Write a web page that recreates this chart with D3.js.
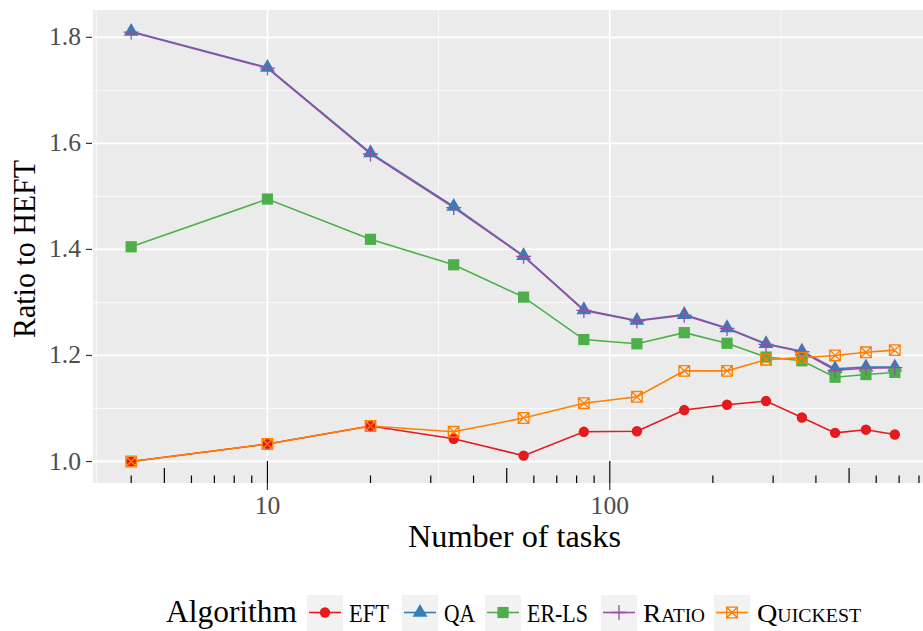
<!DOCTYPE html>
<html><head><meta charset="utf-8">
<script src="https://cdn.jsdelivr.net/npm/d3@7"></script>
<style>body{margin:0;background:#fff}svg{display:block}text{font-family:"Liberation Serif",serif}</style>
</head><body>
<svg id="c" width="923" height="631"></svg>
<script>
const tasks = [4,10,20,35,56,84,120,165,220,286,364,455,560,680];
const eft = [1.000,1.033,1.067,1.043,1.011,1.056,1.057,1.097,1.107,1.114,1.083,1.054,1.060,1.051];
const qa = [1.811,1.743,1.582,1.481,1.388,1.286,1.266,1.277,1.252,1.222,1.208,1.175,1.178,1.178];
const erls = [1.405,1.495,1.419,1.371,1.310,1.230,1.222,1.243,1.223,1.197,1.190,1.159,1.164,1.168];
const ratio = [1.810,1.742,1.580,1.479,1.387,1.285,1.265,1.276,1.251,1.221,1.207,1.172,1.176,1.177];
const quickest = [1.000,1.033,1.067,1.056,1.082,1.110,1.122,1.171,1.171,1.192,1.196,1.200,1.206,1.210];
const seriesNames = ["EFT","QA","ER-LS","Ratio","Quickest"];
const colors = ["#E41A1C","#377EB8","#4DAF4A","#984EA3","#FF7F00"];
const xTicks = [10,100];
const yTicks = [1.0,1.2,1.4,1.6,1.8];
const yMinor = [1.1,1.3,1.5,1.7];

const seriesVals = [eft, qa, erls, ratio, quickest];
const svg = d3.select("#c");
const P = {l:93, r:933, t:10, b:483};
const lo = Math.log10(4), hi = Math.log10(680), ex = (hi-lo)*0.05;
const x = d3.scaleLog().domain([Math.pow(10,lo-ex), Math.pow(10,hi+ex)]).range([P.l,P.r]);
const ymin=1.0, ymax=d3.max(qa), ey=(ymax-ymin)*0.05;
const y = d3.scaleLinear().domain([ymin-ey, ymax+ey]).range([P.b,P.t]);

svg.append("defs").append("clipPath").attr("id","pc").append("rect")
  .attr("x",P.l).attr("y",P.t).attr("width",P.r-P.l).attr("height",P.b-P.t);
svg.append("rect").attr("x",P.l).attr("y",P.t).attr("width",P.r-P.l).attr("height",P.b-P.t).attr("fill","#ebebeb");

const g = svg.append("g").attr("clip-path","url(#pc)");
// minor grid
const xMinor = [Math.pow(10,0.5),Math.pow(10,1.5),Math.pow(10,2.5)];
g.selectAll(".ym").data(yMinor).join("line").attr("x1",P.l).attr("x2",P.r)
  .attr("y1",d=>y(d)).attr("y2",d=>y(d)).attr("stroke","#fff").attr("stroke-width",0.9).attr("opacity",0.85);
g.selectAll(".xm").data(xMinor).join("line").attr("y1",P.t).attr("y2",P.b)
  .attr("x1",d=>x(d)).attr("x2",d=>x(d)).attr("stroke","#fff").attr("stroke-width",0.9).attr("opacity",0.85);
g.selectAll(".yM").data(yTicks).join("line").attr("x1",P.l).attr("x2",P.r)
  .attr("y1",d=>y(d)).attr("y2",d=>y(d)).attr("stroke","#fff").attr("stroke-width",1.8);
g.selectAll(".xM").data(xTicks).join("line").attr("y1",P.t).attr("y2",P.b)
  .attr("x1",d=>x(d)).attr("x2",d=>x(d)).attr("stroke","#fff").attr("stroke-width",1.8);

// log ticks (annotation_logticks at bottom)
const lt = [];
[1,10,100].forEach(dec=>{for(let k=1;k<=9;k++){const v=dec*k; if(v>=x.domain()[0]&&v<=x.domain()[1]) lt.push(v);}});
g.selectAll(".lt").data(lt).join("line")
  .attr("x1",d=>x(d)).attr("x2",d=>x(d)).attr("y2",P.b)
  .attr("y1",d=>{const m=d/Math.pow(10,Math.floor(Math.log10(d)+1e-9)); return P.b-(Math.abs(m-1)<1e-9?22:Math.abs(m-5)<1e-9?15:7.5);})
  .attr("stroke","#000").attr("stroke-width",1.2);

// lines
const line = d3.line().x((d,i)=>x(tasks[i])).y(d=>y(d));
seriesVals.forEach((vals,si)=>{
  g.append("path").attr("d",line(vals)).attr("fill","none").attr("stroke",colors[si]).attr("stroke-width",1.6);
});
function drawShape(sel, si, cx, cy){
  const c = colors[si];
  if(si===0) sel.append("circle").attr("cx",cx).attr("cy",cy).attr("r",5.2).attr("fill",c);
  else if(si===1) sel.append("path").attr("d",d3.symbol(d3.symbolTriangle,95)()).attr("transform",`translate(${cx},${cy})`).attr("fill",c);
  else if(si===2) sel.append("rect").attr("x",cx-5.6).attr("y",cy-5.6).attr("width",11.2).attr("height",11.2).attr("fill",c);
  else if(si===3) sel.append("path").attr("d",`M${cx-7.5},${cy}H${cx+7.5}M${cx},${cy-7.5}V${cy+7.5}`).attr("stroke",c).attr("stroke-width",1.3).attr("fill","none");
  else sel.append("path").attr("d",`M${cx-5.3},${cy-5.3}h10.6v10.6h-10.6zM${cx-5.3},${cy-5.3}L${cx+5.3},${cy+5.3}M${cx+5.3},${cy-5.3}L${cx-5.3},${cy+5.3}`).attr("stroke",c).attr("stroke-width",1.3).attr("fill","none");
}
seriesVals.forEach((vals,si)=>{
  vals.forEach((v,i)=>drawShape(g, si, x(tasks[i]), y(v)));
});

// axes
const tc="#4d4d4d";
yTicks.forEach(v=>{
  svg.append("line").attr("x1",P.l-7).attr("x2",P.l-1).attr("y1",y(v)).attr("y2",y(v)).attr("stroke","#333").attr("stroke-width",1.2);
  svg.append("text").attr("x",P.l-12).attr("y",y(v)+8).attr("text-anchor","end").attr("font-size",25.6).attr("fill",tc).text(d3.format(".1f")(v));
});
xTicks.forEach(v=>{
  svg.append("line").attr("x1",x(v)).attr("x2",x(v)).attr("y1",P.b).attr("y2",P.b+7).attr("stroke","#333").attr("stroke-width",1.2);
  svg.append("text").attr("x",x(v)).attr("y",514).attr("text-anchor","middle").attr("font-size",25.6).attr("fill",tc).text(v);
});
svg.append("text").attr("x",514.5).attr("y",547).attr("text-anchor","middle").attr("font-size",32)
  .attr("textLength",213).attr("lengthAdjust","spacingAndGlyphs").text("Number of tasks");
svg.append("text").attr("transform","translate(35,249) rotate(-90)").attr("text-anchor","middle").attr("font-size",32)
  .attr("textLength",178).attr("lengthAdjust","spacingAndGlyphs").text("Ratio to HEFT");

// legend
const L = svg.append("g");
L.append("text").attr("x",166).attr("y",622).attr("font-size",32).attr("textLength",131).attr("lengthAdjust","spacingAndGlyphs").text("Algorithm");
const keyX = [307,402,485,601,714];
const labX = [349,444,527,643,757];
const labW = [40,31,61,62,104];
seriesNames.forEach((n,si)=>{
  L.append("rect").attr("x",keyX[si]).attr("y",595).attr("width",36).attr("height",36).attr("fill","#f2f2f2");
  L.append("line").attr("x1",keyX[si]+2).attr("x2",keyX[si]+34).attr("y1",612.5).attr("y2",612.5).attr("stroke",colors[si]).attr("stroke-width",1.6);
  drawShape(L, si, keyX[si]+18, 612.5);
  const t = L.append("text").attr("x",labX[si]).attr("y",622).attr("font-size",25.6)
    .attr("textLength",labW[si]).attr("lengthAdjust","spacingAndGlyphs").text(n);
  if(si>=3) t.attr("font-variant","small-caps");
});
</script>
</body></html>
